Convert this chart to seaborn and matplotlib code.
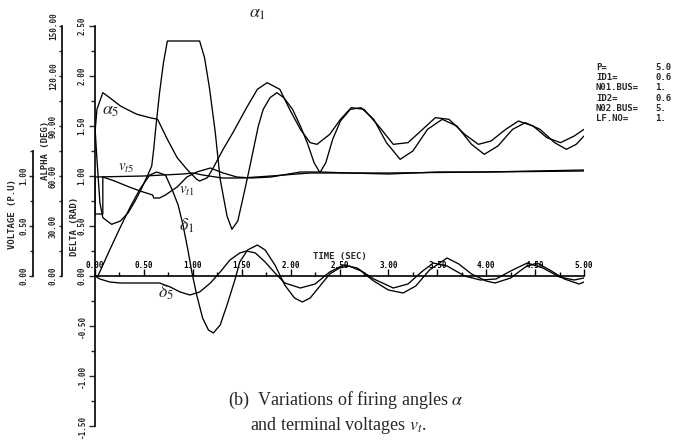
import numpy as np
import pandas as pd
import seaborn as sns
import matplotlib
matplotlib.use("Agg")
import matplotlib.pyplot as plt
from matplotlib.ticker import MultipleLocator, FormatStrFormatter
from matplotlib.font_manager import FontProperties

# ---------------- data ----------------
t_a1 = [0, 0.02, 0.05, 0.08, 0.17, 0.26, 0.34, 0.41, 0.48, 0.55, 0.58, 0.60, 0.62, 0.66, 0.70, 0.74,
        1.07, 1.12, 1.17, 1.23, 1.28, 1.35, 1.40, 1.46, 1.51, 1.57, 1.62, 1.67, 1.72, 1.79, 1.86, 1.93,
        2.02, 2.10, 2.17, 2.24, 2.30, 2.36, 2.43, 2.51, 2.61, 2.72, 2.85, 2.98, 3.12, 3.25, 3.40, 3.55,
        3.70, 3.85, 3.98, 4.12, 4.27, 4.40, 4.55, 4.70, 4.82, 4.92, 5.0]
alpha1 = [89, 70, 44, 35, 31, 33, 38, 45, 53, 62, 66, 76, 88, 110, 128, 141,
          141, 131, 113, 86, 58, 36, 28, 33, 46, 62, 76, 90, 100, 107, 110, 107,
          100, 90, 80, 68, 62, 68, 82, 93, 100, 101, 94, 80, 70, 75, 88, 94,
          90, 79, 73, 78, 88, 92, 88, 80, 76, 79, 84]

t_a5 = [0, 0.02, 0.08, 0.15, 0.26, 0.36, 0.43, 0.56, 0.64, 0.74, 0.84, 0.94, 1.04, 1.07, 1.15, 1.21,
        1.31, 1.41, 1.55, 1.66, 1.76, 1.89, 1.99, 2.10, 2.20, 2.27, 2.40, 2.51, 2.62, 2.75, 2.90, 3.05,
        3.20, 3.35, 3.48, 3.62, 3.78, 3.92, 4.05, 4.20, 4.33, 4.48, 4.62, 4.76, 4.90, 5.0]
alpha5 = [86, 100, 110, 107, 102, 99, 97, 95, 94, 82, 71, 64, 58, 57, 59, 65,
          76, 86, 101, 112, 116, 112, 100, 88, 80, 79, 85, 94, 101, 100, 90, 79,
          80, 88, 95, 94, 85, 79, 81, 88, 93, 90, 83, 80, 84, 88]

t_v1 = [0, 0, 0.08, 0.08, 0.20, 0.35, 0.46, 0.59, 0.60, 0.66, 0.72, 0.84, 0.94, 1.04, 1.18, 1.31,
        1.45, 1.60, 1.80, 2.10, 2.30, 2.60, 3.00, 3.50, 4.00, 4.50, 5.0]
vt1 = [0.99, 0.62, 0.62, 0.99, 0.95, 0.89, 0.85, 0.81, 0.78, 0.78, 0.81, 0.89, 0.99, 1.04, 1.08, 1.03,
       0.99, 0.98, 0.99, 1.04, 1.04, 1.03, 1.02, 1.04, 1.04, 1.05, 1.06]

t_v5 = [0, 0.5, 0.9, 1.0, 1.1, 1.3, 1.5, 1.8, 2.2, 3.0, 4.0, 5.0]
vt5 = [0.99, 1.00, 1.02, 1.03, 1.01, 0.98, 0.98, 1.00, 1.03, 1.03, 1.04, 1.05]

t_d1 = [0, 0.03, 0.15, 0.26, 0.36, 0.46, 0.56, 0.63, 0.72, 0.79, 0.85, 0.90, 0.95, 0.99, 1.04, 1.10,
        1.16, 1.21, 1.28, 1.35, 1.43, 1.48, 1.56, 1.66, 1.74, 1.84, 1.94, 2.04, 2.12, 2.20, 2.30, 2.40,
        2.50, 2.60, 2.72, 2.85, 3.00, 3.15, 3.28, 3.42, 3.60, 3.72, 3.85, 4.0, 4.09, 4.25, 4.40, 4.52,
        4.65, 4.80, 4.95, 5.0]
delta1 = [0, 0, 0.26, 0.49, 0.69, 0.87, 1.01, 1.04, 1.01, 0.86, 0.71, 0.51, 0.26, 0.04, -0.19, -0.42,
          -0.54, -0.57, -0.49, -0.29, -0.04, 0.14, 0.26, 0.31, 0.26, 0.11, -0.09, -0.22, -0.26, -0.22, -0.10, 0.02,
          0.08, 0.10, 0.05, -0.05, -0.14, -0.17, -0.10, 0.06, 0.18, 0.12, 0.02, -0.05, -0.07, -0.02, 0.09, 0.13,
          0.06, -0.03, -0.08, -0.06]

t_d5 = [0, 0.05, 0.15, 0.26, 0.46, 0.66, 0.77, 0.87, 0.97, 1.07, 1.18, 1.28, 1.38, 1.48, 1.55, 1.64,
        1.74, 1.84, 1.94, 2.10, 2.25, 2.40, 2.54, 2.68, 2.85, 3.05, 3.20, 3.35, 3.46, 3.60, 3.78, 3.94,
        4.10, 4.25, 4.42, 4.58, 4.75, 4.90, 5.0]
delta5 = [0, -0.03, -0.06, -0.07, -0.07, -0.07, -0.11, -0.16, -0.19, -0.16, -0.07, 0.04, 0.16, 0.23, 0.25, 0.23,
          0.14, 0.03, -0.07, -0.12, -0.08, 0.04, 0.11, 0.08, -0.03, -0.12, -0.08, 0.05, 0.13, 0.10, 0.0, -0.04,
          -0.03, 0.05, 0.13, 0.08, -0.01, -0.04, -0.02]

info_keys = ["P=", "ID1=", "N01.BUS=", "ID2=", "N02.BUS=", "LF.NO="]
info_vals = ["5.0", "0.6", "1.", "0.6", "5.", "1."]

# ---------------- styling ----------------
sns.set_theme(style="white")
plt.rcParams["font.family"] = ["DejaVu Sans Mono", "DejaVu Sans"]
plt.rcParams["mathtext.fontset"] = "stix"

W, H = 680, 442
fig = plt.figure(figsize=(6.8, 4.42), dpi=100)
x0, x1, yb, yt = 95, 584, 426, 26
ax = fig.add_axes([x0 / W, 1 - yb / H, (x1 - x0) / W, (yb - yt) / H])
ax.patch.set_alpha(0)

tick_font = dict(family="DejaVu Sans Mono", weight="bold", size=5.5)
lbl_font = dict(family="DejaVu Sans Mono", weight="bold", size=6.5)
lw = 0.95


def draw(a, t, y):
    sns.lineplot(x=t, y=y, ax=a, color="black", lw=lw, sort=False,
                 estimator=None, legend=False)


# delta axis (main)
draw(ax, t_d1, delta1)
draw(ax, t_d5, delta5)
ax.set_xlim(0, 5)
ax.set_ylim(-1.5, 2.5)
for s in ["top", "right"]:
    ax.spines[s].set_visible(False)
ax.spines["bottom"].set_position(("data", 0))
for s in ["left", "bottom"]:
    ax.spines[s].set_color("black")
    ax.spines[s].set_linewidth(1.2)
ax.xaxis.set_major_locator(MultipleLocator(0.5))
ax.xaxis.set_minor_locator(MultipleLocator(0.25))
ax.xaxis.set_major_formatter(FormatStrFormatter("%.2f"))
ax.yaxis.set_major_locator(MultipleLocator(0.5))
ax.yaxis.set_minor_locator(MultipleLocator(0.25))
ax.yaxis.set_major_formatter(FormatStrFormatter("%.2f"))
ax.tick_params(axis="x", which="both", direction="in", bottom=True, pad=-10.5, colors="black")
ax.tick_params(axis="x", which="major", length=5, width=1)
ax.tick_params(axis="x", which="minor", length=3, width=1)
ax.tick_params(axis="y", which="both", direction="out", left=True, labelrotation=90, pad=2)
ax.tick_params(axis="y", which="major", length=4, width=1)
ax.tick_params(axis="y", which="minor", length=3, width=1)
for lab in ax.get_xticklabels() + ax.get_yticklabels():
    lab.set_fontproperties(FontProperties(**tick_font))
for lab in ax.get_yticklabels():
    lab.set_va("center")
ax.set_xlabel("")
ax.set_ylabel("DELTA (RAD)", fontdict=lbl_font)
ax.yaxis.set_label_coords((79 - x0) / (x1 - x0), (yb - 226) / (yb - yt))
ax.text(2.5, 0.2, "TIME (SEC)", fontdict=lbl_font, ha="center", va="center")
ax.grid(False)


def side_axis(offset_px, lim, bounds, major, minor, label, lab_x, lab_y, tlen, tpad):
    a = ax.twinx()
    a.patch.set_alpha(0)
    a.set_ylim(*lim)
    for s in ["top", "right", "bottom"]:
        a.spines[s].set_visible(False)
    a.spines["left"].set_visible(True)
    a.spines["left"].set_color("black")
    a.spines["left"].set_linewidth(1.2)
    a.spines["left"].set_position(("axes", -offset_px / (x1 - x0)))
    a.spines["left"].set_bounds(*bounds)
    a.yaxis.set_ticks_position("left")
    a.yaxis.set_label_position("left")
    a.yaxis.set_major_formatter(FormatStrFormatter("%.2f"))
    a.tick_params(axis="y", which="both", direction="out", left=True, right=False,
                  labelleft=True, labelright=False, labelrotation=90, pad=tpad)
    a.tick_params(axis="y", which="major", length=tlen, width=1)
    a.tick_params(axis="y", which="minor", length=tlen * 0.75, width=1)
    a.set_yticks([v for v in np.arange(bounds[0], bounds[1] + 1e-9, major)])
    a.set_yticks([v for v in np.arange(bounds[0], bounds[1] + 1e-9, minor)], minor=True)
    for lab in a.get_yticklabels():
        lab.set_fontproperties(FontProperties(**tick_font))
        lab.set_va("center")
    a.set_ylabel(label, fontdict=lbl_font)
    a.yaxis.set_label_coords((lab_x - x0) / (x1 - x0), (yb - lab_y) / (yb - yt))
    a.grid(False)
    return a


ax_a = side_axis(33, (-90, 150), (0, 150), 30, 15, "ALPHA (DEG)", 50, 150, 2.5, 0.5)
draw(ax_a, t_a1, alpha1)
draw(ax_a, t_a5, alpha5)
ax_a.set_ylim(-90, 150)
ax_a.set_xlim(0, 5)
ax_a.set_xlabel("")

ax_v = side_axis(62, (-1.5, 2.5), (0, 1.25), 0.5, 0.25, "VOLTAGE (P.U)", 17, 214, 3, 0.5)
draw(ax_v, t_v1, vt1)
draw(ax_v, t_v5, vt5)
ax_v.set_ylim(-1.5, 2.5)
ax_v.set_xlim(0, 5)
ax_v.set_xlabel("")

# curve labels
ax.text(1.66, 2.63, r"$\alpha_1$", fontsize=13, ha="center", va="center")
ax.text(0.16, 1.66, r"$\alpha_5$", fontsize=13, ha="center", va="center")
ax.text(0.32, 1.08, r"$v_{t5}$", fontsize=11, ha="center", va="center")
ax.text(0.94, 0.85, r"$v_{t1}$", fontsize=11, ha="center", va="center")
ax.text(0.94, 0.50, r"$\delta_1$", fontsize=13, ha="center", va="center")
ax.text(0.73, -0.17, r"$\delta_5$", fontsize=13, ha="center", va="center")

# info block
for i, (k, v) in enumerate(zip(info_keys, info_vals)):
    yy = 1 - (67 + i * 10.4) / H
    fig.text(596 / W, yy, k, family="DejaVu Sans Mono", weight="bold", size=6.5, va="center")
    fig.text(655 / W, yy, v, family="DejaVu Sans Mono", weight="bold", size=6.5, va="center")

# caption
fig.text(228 / W, 1 - 400 / H, r"(b)  Variations of firing angles $\alpha$",
         family="Liberation Serif", size=13, va="center")
fig.text(250 / W, 1 - 425 / H, r"and terminal voltages $v_t$.",
         family="Liberation Serif", size=13, va="center")

fig.savefig("out.png", dpi=100, facecolor="white")
